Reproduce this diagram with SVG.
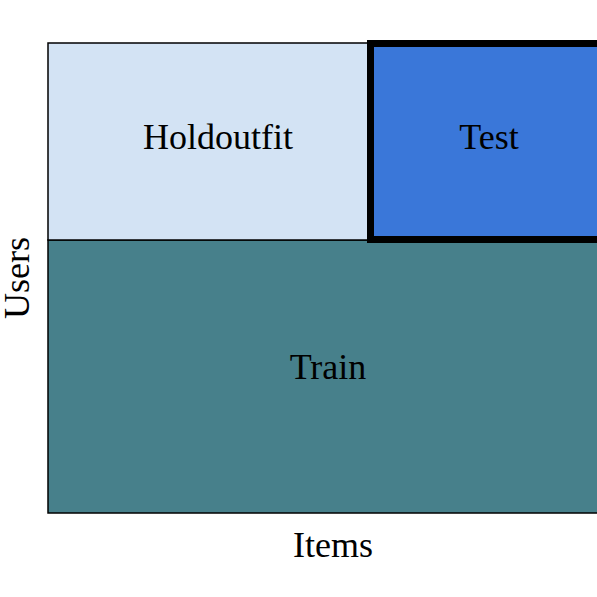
<svg xmlns="http://www.w3.org/2000/svg" width="597" height="597" viewBox="0 0 597 597">
<style>
text{font-family:"Liberation Serif","Times New Roman",serif;font-size:36px;fill:#000;text-anchor:middle}
.box{stroke:#000;stroke-width:1.5}
</style>
<rect width="597" height="597" fill="#fff"/>
<g id="train"><rect class="box" x="48" y="240" width="580" height="273" fill="#47808b"/><text x="328" y="379">Train</text></g>
<g id="holdout"><rect class="box" x="48" y="43" width="322" height="197" fill="#d3e3f4"/><text x="218" y="149">Holdoutfit</text></g>
<g id="test"><rect x="370.5" y="43.5" width="260" height="196" fill="#3a77d9" stroke="#000" stroke-width="7"/><text x="489" y="149">Test</text></g>
<g id="axes"><text x="333" y="557">Items</text><text transform="translate(29,278) rotate(-90)">Users</text></g>
<g id="connectors"/>
</svg>
